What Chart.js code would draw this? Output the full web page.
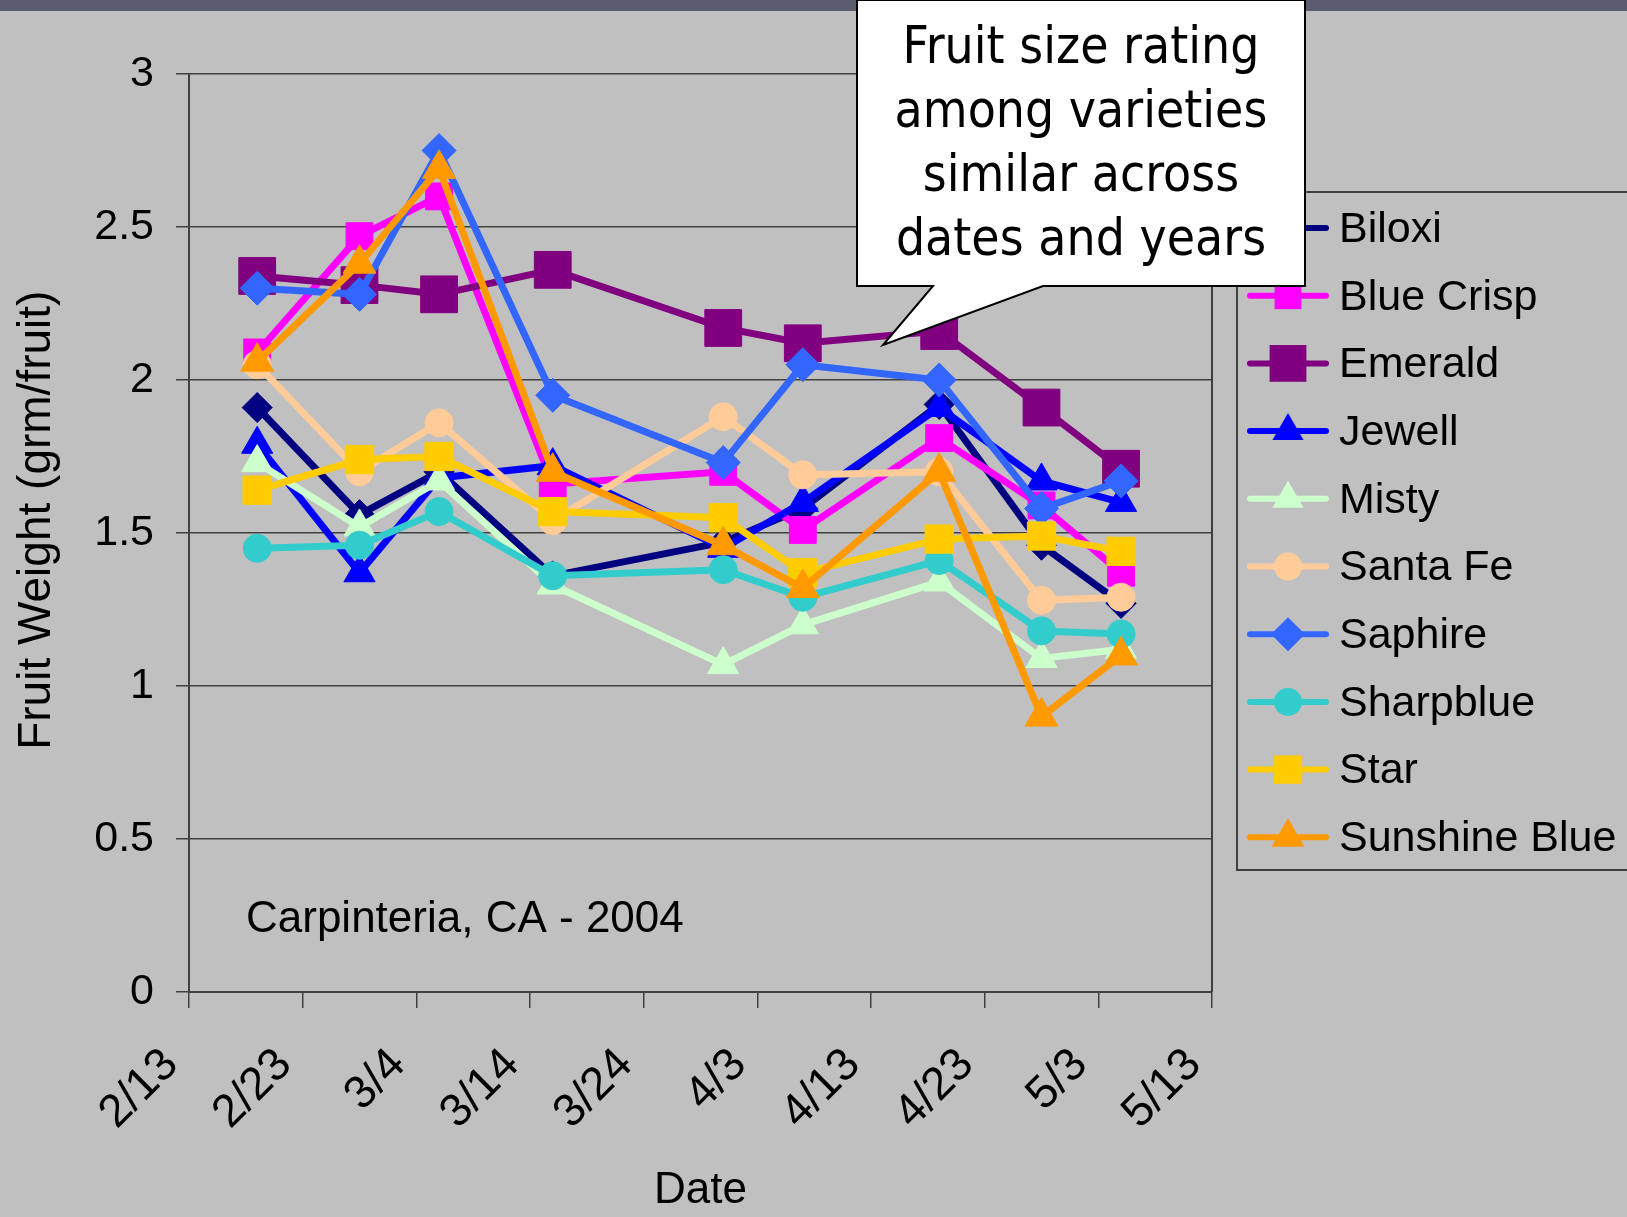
<!DOCTYPE html>
<html>
<head>
<meta charset="utf-8">
<script src="https://cdn.jsdelivr.net/npm/chart.js@4.4.1/dist/chart.umd.min.js"></script>
<style>
  html, body { margin: 0; padding: 0; background: #c0c0c0; }
  #wrap { width: 1627px; height: 1217px; position: relative; }
</style>
</head>
<body>
<div id="wrap"><canvas id="fruitChart"></canvas></div>
<script>
// axis ticks: dates every 10 days from 2/13/2004
const tickLabels = ['2/13', '2/23', '3/4', '3/14', '3/24', '4/3', '4/13', '4/23', '5/3', '5/13'];
// harvest dates as days after 2/13 (2/19, 2/28, 3/6, 3/16, 3/31, 4/7, 4/19, 4/28, 5/5)
const sampleDays = [6, 15, 22, 32, 47, 54, 66, 75, 82];

const varieties = ['Biloxi', 'Blue Crisp', 'Emerald', 'Jewell', 'Misty', 'Santa Fe', 'Saphire', 'Sharpblue', 'Star', 'Sunshine Blue'];

const biloxi       = [1.91, 1.56, 1.70, 1.36, 1.47, 1.58, 1.92, 1.46, 1.27];
const blueCrisp    = [2.09, 2.47, 2.60, 1.66, 1.70, 1.51, 1.81, 1.59, 1.37];
const emerald      = [2.34, 2.31, 2.28, 2.36, 2.17, 2.12, 2.16, 1.91, 1.71];
const jewell       = [1.79, 1.37, 1.68, 1.72, 1.45, 1.60, 1.91, 1.67, 1.60];
const misty        = [1.73, 1.52, 1.67, 1.33, 1.07, 1.20, 1.34, 1.09, 1.12];
const santaFe      = [2.05, 1.70, 1.86, 1.54, 1.88, 1.69, 1.70, 1.28, 1.29];
const saphire      = [2.30, 2.28, 2.75, 1.95, 1.73, 2.05, 2.00, 1.58, 1.67];
const sharpblue    = [1.45, 1.46, 1.57, 1.36, 1.38, 1.29, 1.41, 1.18, 1.17];
const star         = [1.64, 1.74, 1.75, 1.57, 1.55, 1.37, 1.48, 1.49, 1.44];
const sunshineBlue = [2.06, 2.38, 2.69, 1.70, 1.46, 1.32, 1.70, 0.90, 1.10];

const seriesValues = [biloxi, blueCrisp, emerald, jewell, misty, santaFe, saphire, sharpblue, star, sunshineBlue];
const colors  = ['#000080', '#ff00ff', '#800080', '#0000ff', '#ccffcc', '#ffcc99', '#3366ff', '#33cccc', '#ffcc00', '#ff9900'];
const markers = ['rectRot', 'rect', 'rect', 'triangle', 'triangle', 'circle', 'rectRot', 'circle', 'rect', 'triangle'];
const sizes   = [15, 19, 26, 18, 18, 14, 17, 14, 20, 19];

const gridc = '#404040';
Chart.defaults.font.family = "'Liberation Sans', Arial, sans-serif";
Chart.defaults.color = '#000';

const datasets = varieties.map((name, i) => ({
    label: name,
    data: sampleDays.map((d, j) => ({ x: d, y: seriesValues[i][j] })),
    borderColor: colors[i],
    backgroundColor: colors[i],
    borderWidth: 7,
    pointStyle: markers[i],
    pointRadius: sizes[i],
    pointHoverRadius: sizes[i],
    pointBackgroundColor: colors[i],
    pointBorderColor: colors[i],
    pointBorderWidth: 1,
    tension: 0,
    order: varieties.length - 1 - i   // later series drawn on top, like Excel
}));

const backdrop = {
    id: 'backdrop',
    beforeDraw(chart) {
        const c = chart.ctx;
        c.save();
        c.fillStyle = '#c0c0c0';
        c.fillRect(0, 0, chart.width, chart.height);
        c.fillStyle = '#5b5c6f';
        c.fillRect(0, 0, chart.width, 11);
        c.restore();
    },
    beforeDatasetsDraw(chart) {
        const a = chart.chartArea, c = chart.ctx;
        c.save();
        c.strokeStyle = gridc;
        c.lineWidth = 2;
        c.beginPath();
        c.moveTo(a.right, a.top);
        c.lineTo(a.right, a.bottom);
        c.stroke();
        c.fillStyle = '#000';
        c.font = "44px 'Liberation Sans', Arial, sans-serif";
        c.textBaseline = 'alphabetic';
        c.fillText('Carpinteria, CA - 2004', 246, 932);
        c.restore();
    }
};

const sideLegend = {
    id: 'sideLegend',
    afterDraw(chart) {
        const c = chart.ctx;
        c.save();
        c.strokeStyle = gridc;
        c.lineWidth = 2;
        c.strokeRect(1237, 192, 420, 678);
        chart.data.datasets.forEach((ds, i) => {
            const y = 228 + 67.7 * i;
            c.strokeStyle = ds.borderColor;
            c.lineWidth = 6;
            c.lineCap = 'round';
            c.beginPath();
            c.moveTo(1250, y);
            c.lineTo(1326, y);
            c.stroke();
            c.fillStyle = ds.borderColor;
            c.lineWidth = 1;
            Chart.helpers.drawPoint(c, { pointStyle: ds.pointStyle, radius: ds.pointRadius, rotation: 0, borderWidth: 0 }, 1288, y);
            c.fillStyle = '#000';
            c.font = "43px 'Liberation Sans', Arial, sans-serif";
            c.textBaseline = 'middle';
            c.textAlign = 'left';
            c.fillText(ds.label, 1339, y + 2);
        });
        c.restore();

        // callout box
        c.save();
        c.beginPath();
        c.moveTo(857, 0);
        c.lineTo(1305, 0);
        c.lineTo(1305, 286);
        c.lineTo(1043, 286);
        c.lineTo(883, 345);
        c.lineTo(933, 286);
        c.lineTo(857, 286);
        c.closePath();
        c.fillStyle = '#fff';
        c.fill();
        c.strokeStyle = '#000';
        c.lineWidth = 2;
        c.stroke();
        const lines = ['Fruit size rating', 'among varieties', 'similar across', 'dates and years'];
        c.fillStyle = '#000';
        c.font = "52px 'DejaVu Sans', sans-serif";
        c.textAlign = 'center';
        c.textBaseline = 'alphabetic';
        lines.forEach((t, k) => {
            c.save();
            c.translate(1081, 63 + 64 * k);
            c.scale(0.885, 1);
            c.fillText(t, 0, 0);
            c.restore();
        });
        c.restore();
    }
};

new Chart(document.getElementById('fruitChart'), {
    type: 'line',
    data: { datasets: datasets },
    plugins: [backdrop, sideLegend],
    options: {
        responsive: true,
        maintainAspectRatio: false,
        animation: false,
        layout: { padding: { top: 74, right: 415, left: 0, bottom: 0 } },
        scales: {
            x: {
                type: 'linear',
                min: 0,
                max: 90,
                afterFit(scale) { scale.height = 225; },
                grid: { drawOnChartArea: false, color: gridc, tickLength: 16, lineWidth: 1.5 },
                border: { color: gridc, width: 2 },
                ticks: {
                    stepSize: 10,
                    autoSkip: false,
                    maxRotation: 45,
                    minRotation: 45,
                    padding: 30,
                    labelOffset: -18,
                    color: '#000',
                    font: { size: 46 },
                    callback: (v) => tickLabels[Math.round(v / 10)]
                },
                title: {
                    display: true,
                    text: 'Date',
                    color: '#000',
                    font: { size: 44 },
                    padding: { top: 0, bottom: 0 }
                }
            },
            y: {
                min: 0,
                max: 3,
                afterFit(scale) { scale.width = 189; },
                grid: { color: gridc, tickLength: 13, lineWidth: 1.5 },
                border: { color: gridc, width: 2 },
                ticks: {
                    stepSize: 0.5,
                    padding: 22,
                    color: '#000',
                    font: { size: 43 },
                    callback: (v) => String(v)
                },
                title: {
                    display: true,
                    text: '  Fruit Weight (grm/fruit)',
                    color: '#000',
                    font: { size: 46 },
                    padding: { top: 10, bottom: 0 }
                }
            }
        },
        plugins: {
            legend: { display: false },
            tooltip: { enabled: true }
        }
    }
});
</script>
</body>
</html>
